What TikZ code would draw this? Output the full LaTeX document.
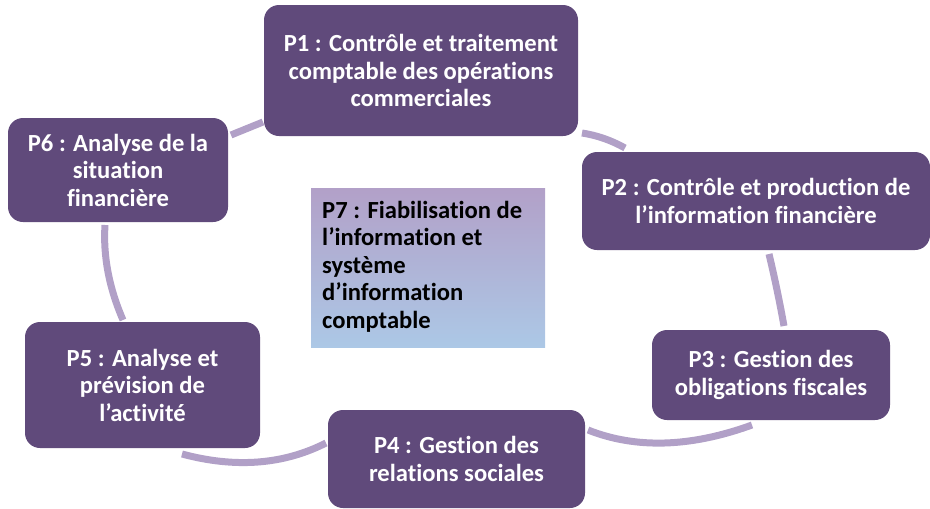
\documentclass[tikz,border=0pt]{standalone}
\usepackage{fontspec}
\setmainfont{Carlito}[Ligatures=NoCommon]
\definecolor{boxfill}{RGB}{96,74,123}
\definecolor{ringcol}{RGB}{177,160,199}
\definecolor{ptop}{RGB}{178,160,200}
\definecolor{pbot}{RGB}{172,200,230}
\begin{document}
\begin{tikzpicture}[x=1pt,y=-1pt,
  pbox/.style={draw=none,fill=boxfill,rounded corners=15pt,text=white,align=center,
    font=\fontsize{24.6}{27.5}\selectfont\bfseries,inner sep=0pt},
  ring/.style={draw=ringcol,line width=7pt,line cap=butt}]
\useasboundingbox (0,0) rectangle (930,509);
% ring arcs
\coordinate (a61) at (231,135); \coordinate (b61) at (263,122);
\coordinate (a12) at (582,133); \coordinate (b12) at (625,148);
\coordinate (a23) at (769,254); \coordinate (b23) at (784,326);
\coordinate (a34) at (752,425); \coordinate (b34) at (588,430);
\coordinate (a45) at (326,443); \coordinate (b45) at (182,454);
\coordinate (a56) at (123,320); \coordinate (b56) at (105,225);
\draw[ring] (a61) -- (b61);
\draw[ring] (a12) .. controls (597,135.3) and (611.3,140.3) .. (b12);
\draw[ring] (a23) .. controls (774.7,278) and (779.7,302) .. (b23);
\draw[ring] (a34) .. controls (690.7,447.3) and (636,449) .. (b34);
\draw[ring] (a45) .. controls (283.3,464.7) and (235.3,468.3) .. (b45);
\draw[ring] (a56) .. controls (109,287.7) and (103,256) .. (b56);
% boxes
\node[pbox,minimum width=314pt,minimum height=131pt] (P1) at (421,70.5)
  {P1 : Contrôle et traitement\\comptable des opérations\\commerciales};
\node[pbox,minimum width=348pt,minimum height=98pt] (P2) at (756,201)
  {P2 : Contrôle et production de\\l’information financière};
\node[pbox,minimum width=238pt,minimum height=90pt] (P3) at (771,375)
  {P3 : Gestion des\\obligations fiscales};
\node[pbox,minimum width=257pt,minimum height=98pt] (P4) at (456.5,459)
  {P4 : Gestion des\\relations sociales};
\node[pbox,minimum width=235pt,minimum height=126pt] (P5) at (142.5,385)
  {P5 : Analyse et\\prévision de\\l’activité};
\node[pbox,minimum width=220pt,minimum height=104pt] (P6) at (118,170)
  {P6 : Analyse de la\\situation\\financière};
\node[draw=none,top color=ptop,bottom color=pbot,minimum width=234pt,minimum height=159pt,
  inner sep=0pt] (P7) at (428,267.5) {};
\node[anchor=west,align=left,text=black,font=\fontsize{24.6}{27.5}\selectfont\bfseries,inner sep=0pt]
  (P7t) at (322,266.5)
  {P7 : Fiabilisation de\\l’information et\\système\\d’information\\comptable};
\end{tikzpicture}
\end{document}
